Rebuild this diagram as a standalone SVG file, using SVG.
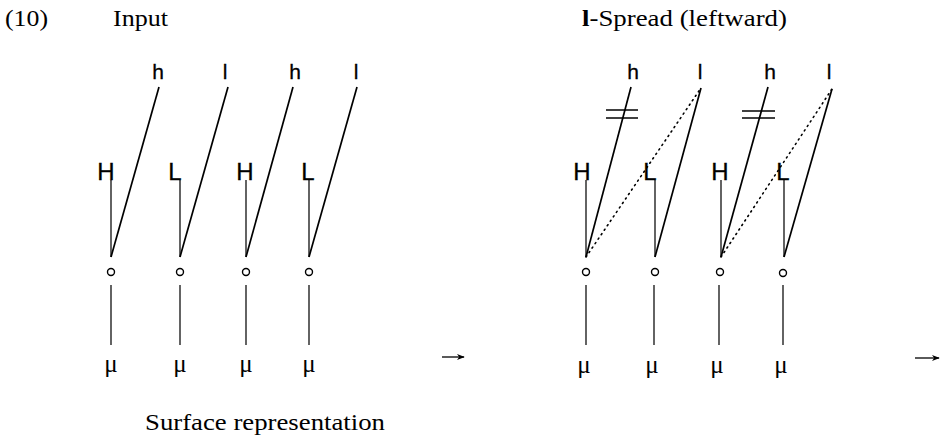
<svg xmlns="http://www.w3.org/2000/svg" width="946" height="439" viewBox="0 0 946 439">
<defs>
<style>
.ser{font-family:"Liberation Serif","Times New Roman",serif;font-size:23px;fill:#000}
.tone{font-family:"Liberation Sans",Arial,sans-serif;font-size:24px;fill:#000;text-anchor:middle;stroke:#000;stroke-width:0.3}
.tt{font-family:"Liberation Sans",Arial,sans-serif;font-size:21px;fill:#000;text-anchor:middle;stroke:#000;stroke-width:0.3}
.mu{font-family:"Liberation Serif","Times New Roman",serif;font-size:25px;fill:#000;text-anchor:middle}
.nd{fill:none;stroke:#000;stroke-width:1.4}
.sl{stroke:#000;stroke-width:1.7;fill:none}
.vl{stroke:#222;stroke-width:1.4;fill:none}
.dt{stroke:#000;stroke-width:1.6;fill:none;stroke-dasharray:1.2 4.2;stroke-linecap:round}
.bar{stroke:#000;stroke-width:1.5}
</style>
<marker id="ah" viewBox="0 0 10 10" refX="9" refY="5" markerWidth="8" markerHeight="8" orient="auto" markerUnits="userSpaceOnUse">
<path d="M0,1 L10,5 L0,9 L3,5 Z" fill="#000"/>
</marker>
</defs>
<rect width="946" height="439" fill="#fff"/>

<g id="labels">
<text class="ser" x="5" y="26" textLength="43" lengthAdjust="spacingAndGlyphs">(10)</text>
<text class="ser" x="113" y="26" textLength="55" lengthAdjust="spacingAndGlyphs">Input</text>
<text class="ser" x="582" y="26" textLength="205" lengthAdjust="spacingAndGlyphs"><tspan font-weight="bold">l</tspan>-Spread (leftward)</text>
<text class="ser" x="145" y="430" textLength="240" lengthAdjust="spacingAndGlyphs">Surface representation</text>
</g>

<g id="connectors">
<line class="vl" x1="111" y1="180" x2="111" y2="257"/>
<line class="vl" x1="180" y1="180" x2="180" y2="257"/>
<line class="vl" x1="246" y1="180" x2="246" y2="257"/>
<line class="vl" x1="309" y1="180" x2="309" y2="257"/>
<line class="sl" x1="111" y1="257" x2="159" y2="87"/>
<line class="sl" x1="180" y1="257" x2="228" y2="87"/>
<line class="sl" x1="246" y1="257" x2="293" y2="87"/>
<line class="sl" x1="309" y1="257" x2="357" y2="87"/>
<line class="vl" x1="111" y1="285" x2="111" y2="345"/>
<line class="vl" x1="180" y1="285" x2="180" y2="345"/>
<line class="vl" x1="246" y1="285" x2="246" y2="345"/>
<line class="vl" x1="309" y1="285" x2="309" y2="345"/>
<line class="vl" x1="586" y1="180" x2="586" y2="257"/>
<line class="vl" x1="655" y1="180" x2="655" y2="257"/>
<line class="vl" x1="721" y1="180" x2="721" y2="257"/>
<line class="vl" x1="784" y1="180" x2="784" y2="257"/>
<line class="sl" x1="586" y1="257" x2="631" y2="87"/>
<line class="sl" x1="655" y1="257" x2="701" y2="88"/>
<line class="sl" x1="721" y1="257" x2="768" y2="87"/>
<line class="sl" x1="784" y1="257" x2="832" y2="89"/>
<line class="dt" x1="586" y1="257" x2="701" y2="88"/>
<line class="dt" x1="721" y1="257" x2="832" y2="89"/>
<line class="bar" x1="606" y1="110" x2="638" y2="110"/>
<line class="bar" x1="606" y1="118" x2="638" y2="118"/>
<line class="bar" x1="742" y1="111" x2="775" y2="111"/>
<line class="bar" x1="742" y1="118" x2="775" y2="118"/>
<line class="vl" x1="586" y1="285" x2="586" y2="345"/>
<line class="vl" x1="654" y1="285" x2="654" y2="345"/>
<line class="vl" x1="719" y1="285" x2="719" y2="345"/>
<line class="vl" x1="783" y1="285" x2="783" y2="345"/>
<line x1="442" y1="357" x2="464" y2="357" stroke="#000" stroke-width="1.3" marker-end="url(#ah)"/>
<line x1="915" y1="358" x2="939" y2="358" stroke="#000" stroke-width="1.3" marker-end="url(#ah)"/>
</g>

<g id="left-tones">
<g id="L-H1"><text class="tone" x="106" y="180">H</text></g>
<g id="L-L1"><text class="tone" x="175" y="180">L</text></g>
<g id="L-H2"><text class="tone" x="245" y="180">H</text></g>
<g id="L-L2"><text class="tone" x="308" y="180">L</text></g>
<g id="L-h1"><text class="tt" x="158" y="79">h</text></g>
<g id="L-l1"><text class="tt" x="225" y="79">l</text></g>
<g id="L-h2"><text class="tt" x="295" y="79">h</text></g>
<g id="L-l2"><text class="tt" x="356" y="79">l</text></g>
</g>
<g id="left-nodes">
<g id="L-o1"><circle class="nd" cx="111" cy="272" r="3.5"/></g>
<g id="L-o2"><circle class="nd" cx="180" cy="272" r="3.5"/></g>
<g id="L-o3"><circle class="nd" cx="246" cy="272" r="3.5"/></g>
<g id="L-o4"><circle class="nd" cx="309" cy="272" r="3.5"/></g>
<g id="L-mu1"><text class="mu" x="111" y="372">μ</text></g>
<g id="L-mu2"><text class="mu" x="180" y="372">μ</text></g>
<g id="L-mu3"><text class="mu" x="246" y="372">μ</text></g>
<g id="L-mu4"><text class="mu" x="309" y="372">μ</text></g>
</g>

<g id="right-tones">
<g id="R-H1"><text class="tone" x="582" y="180">H</text></g>
<g id="R-L1"><text class="tone" x="650" y="180">L</text></g>
<g id="R-H2"><text class="tone" x="720" y="180">H</text></g>
<g id="R-L2"><text class="tone" x="783" y="180">L</text></g>
<g id="R-h1"><text class="tt" x="633" y="79">h</text></g>
<g id="R-l1"><text class="tt" x="700" y="79">l</text></g>
<g id="R-h2"><text class="tt" x="770" y="79">h</text></g>
<g id="R-l2"><text class="tt" x="829" y="79">l</text></g>
</g>
<g id="right-nodes">
<g id="R-o1"><circle class="nd" cx="586" cy="272" r="3.5"/></g>
<g id="R-o2"><circle class="nd" cx="655" cy="272" r="3.5"/></g>
<g id="R-o3"><circle class="nd" cx="720" cy="272" r="3.5"/></g>
<g id="R-o4"><circle class="nd" cx="783" cy="273" r="3.5"/></g>
<g id="R-mu1"><text class="mu" x="584" y="373">μ</text></g>
<g id="R-mu2"><text class="mu" x="652" y="373">μ</text></g>
<g id="R-mu3"><text class="mu" x="717" y="373">μ</text></g>
<g id="R-mu4"><text class="mu" x="781" y="373">μ</text></g>
</g>
</svg>
